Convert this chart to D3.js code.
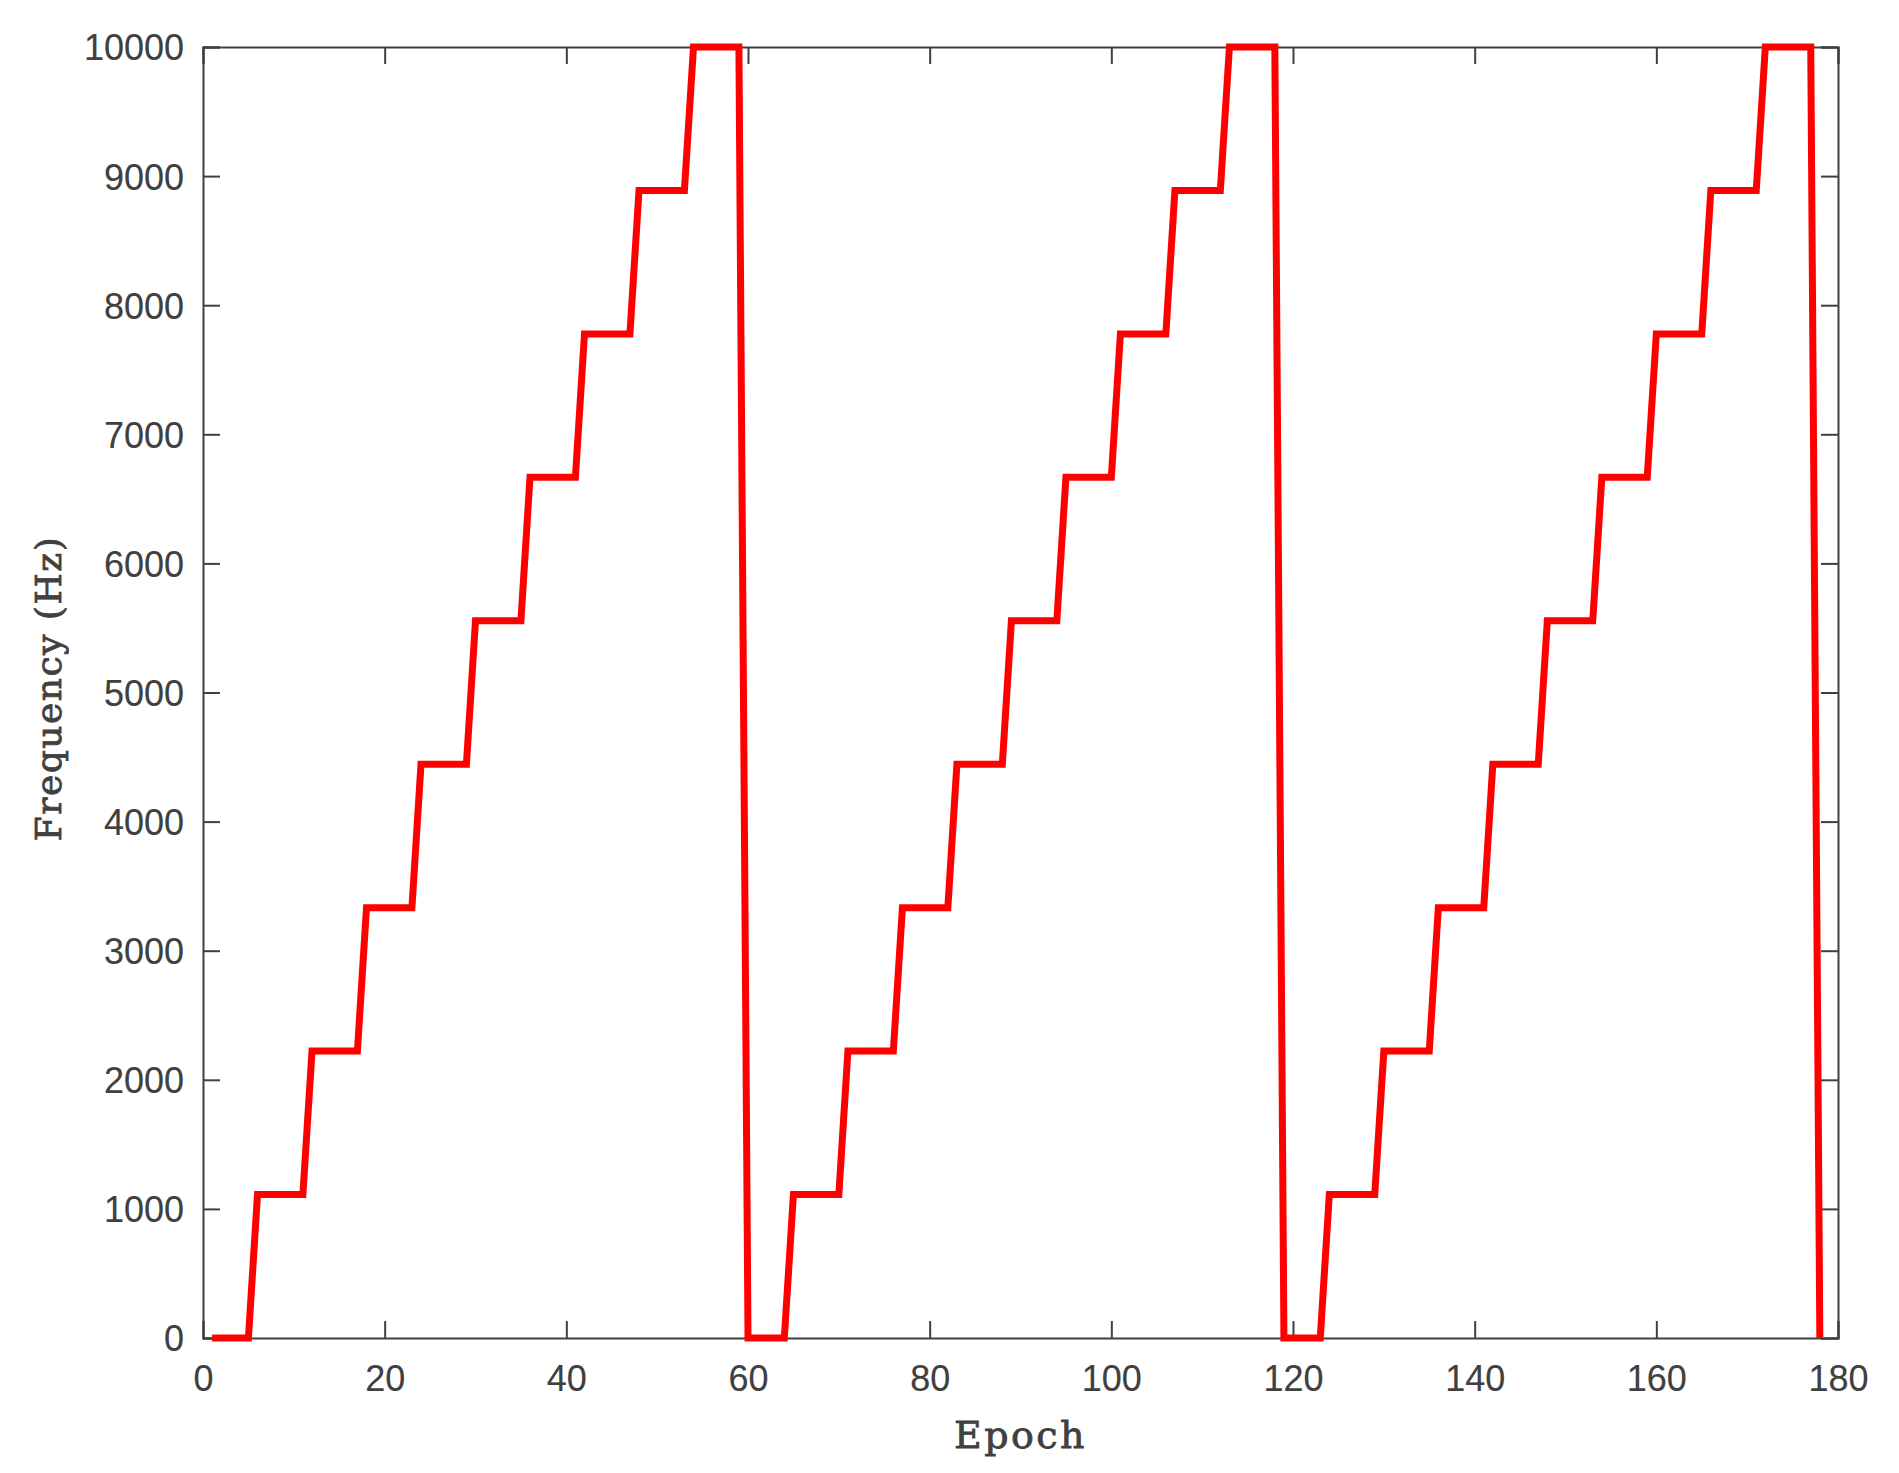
<!DOCTYPE html>
<html>
<head>
<meta charset="utf-8">
<script src="https://cdn.jsdelivr.net/npm/d3@7"></script>
<style>
  html, body { margin: 0; padding: 0; background: #ffffff; }
  svg { display: block; }
</style>
</head>
<body>
<svg id="chart" width="1899" height="1473"></svg>
<script>
// ---- data ----
const epochs = [
  1,2,3,4,5,6,7,8,9,10,11,12,13,14,15,16,17,18,19,20,
  21,22,23,24,25,26,27,28,29,30,31,32,33,34,35,36,37,38,39,40,
  41,42,43,44,45,46,47,48,49,50,51,52,53,54,55,56,57,58,59,60,
  61,62,63,64,65,66,67,68,69,70,71,72,73,74,75,76,77,78,79,80,
  81,82,83,84,85,86,87,88,89,90,91,92,93,94,95,96,97,98,99,100,
  101,102,103,104,105,106,107,108,109,110,111,112,113,114,115,116,117,118,119,120,
  121,122,123,124,125,126,127,128,129,130,131,132,133,134,135,136,137,138,139,140,
  141,142,143,144,145,146,147,148,149,150,151,152,153,154,155,156,157,158,159,160,
  161,162,163,164,165,166,167,168,169,170,171,172,173,174,175,176,177,178
];
const frequency = [
  // epochs 1-59
  0,0,0,0,0,
  1111.1,1111.1,1111.1,1111.1,1111.1,1111.1,
  2222.2,2222.2,2222.2,2222.2,2222.2,2222.2,
  3333.3,3333.3,3333.3,3333.3,3333.3,3333.3,
  4444.4,4444.4,4444.4,4444.4,4444.4,4444.4,
  5555.6,5555.6,5555.6,5555.6,5555.6,5555.6,
  6666.7,6666.7,6666.7,6666.7,6666.7,6666.7,
  7777.8,7777.8,7777.8,7777.8,7777.8,7777.8,
  8888.9,8888.9,8888.9,8888.9,8888.9,8888.9,
  10000,10000,10000,10000,10000,10000,
  // epochs 60-118
  0,0,0,0,0,
  1111.1,1111.1,1111.1,1111.1,1111.1,1111.1,
  2222.2,2222.2,2222.2,2222.2,2222.2,2222.2,
  3333.3,3333.3,3333.3,3333.3,3333.3,3333.3,
  4444.4,4444.4,4444.4,4444.4,4444.4,4444.4,
  5555.6,5555.6,5555.6,5555.6,5555.6,5555.6,
  6666.7,6666.7,6666.7,6666.7,6666.7,6666.7,
  7777.8,7777.8,7777.8,7777.8,7777.8,7777.8,
  8888.9,8888.9,8888.9,8888.9,8888.9,8888.9,
  10000,10000,10000,10000,10000,10000,
  // epochs 119-178
  0,0,0,0,0,
  1111.1,1111.1,1111.1,1111.1,1111.1,1111.1,
  2222.2,2222.2,2222.2,2222.2,2222.2,2222.2,
  3333.3,3333.3,3333.3,3333.3,3333.3,3333.3,
  4444.4,4444.4,4444.4,4444.4,4444.4,4444.4,
  5555.6,5555.6,5555.6,5555.6,5555.6,5555.6,
  6666.7,6666.7,6666.7,6666.7,6666.7,6666.7,
  7777.8,7777.8,7777.8,7777.8,7777.8,7777.8,
  8888.9,8888.9,8888.9,8888.9,8888.9,8888.9,
  10000,10000,10000,10000,10000,10000,
  0
];
const xTicks = [0, 20, 40, 60, 80, 100, 120, 140, 160, 180];
const yTicks = [0, 1000, 2000, 3000, 4000, 5000, 6000, 7000, 8000, 9000, 10000];
const xLabel = "Epoch";
const yLabel = "Frequency (Hz)";

// ---- layout ----
const W = 1899, H = 1473;
const plot = { left: 203, right: 1838, top: 47, bottom: 1338 };
const axisColor = "#404040";
const tickLen = 17;

const svg = d3.select("#chart");
svg.append("rect").attr("width", W).attr("height", H).attr("fill", "#ffffff");

const x = d3.scaleLinear().domain([0, 180]).range([plot.left, plot.right]);
const y = d3.scaleLinear().domain([0, 10000]).range([plot.bottom, plot.top]);

const fontTick = "'Liberation Sans', Arial, Helvetica, sans-serif";

// bottom axis
const gx = svg.append("g").attr("transform", `translate(0,${plot.bottom})`)
  .call(d3.axisBottom(x).tickValues(xTicks).tickFormat(d3.format("d")).tickSize(-tickLen).tickPadding(27));
// top axis (ticks only)
const gxt = svg.append("g").attr("transform", `translate(0,${plot.top})`)
  .call(d3.axisTop(x).tickValues(xTicks).tickFormat("").tickSize(-tickLen));
// left axis
const gy = svg.append("g").attr("transform", `translate(${plot.left},0)`)
  .call(d3.axisLeft(y).tickValues(yTicks).tickFormat(d3.format("d")).tickSize(-tickLen).tickPadding(19));
// right axis (ticks only)
const gyr = svg.append("g").attr("transform", `translate(${plot.right},0)`)
  .call(d3.axisRight(y).tickValues(yTicks).tickFormat("").tickSize(-tickLen));

[gx, gxt, gy, gyr].forEach(g => {
  g.select(".domain").attr("stroke", axisColor).attr("stroke-width", 2);
  g.selectAll(".tick line").attr("stroke", axisColor).attr("stroke-width", 2);
  g.selectAll(".tick text")
    .attr("fill", axisColor)
    .attr("stroke", axisColor)
    .attr("stroke-width", 0.15)
    .style("font-family", fontTick)
    .style("font-size", "36px");
});
gx.selectAll(".tick text").attr("dy", "0.71em");
gy.selectAll(".tick text").attr("dy", "0.36em");

// line
const line = d3.line()
  .x((d, i) => x(epochs[i]))
  .y(d => y(d));

svg.append("path")
  .datum(frequency)
  .attr("d", line)
  .attr("fill", "none")
  .attr("stroke", "#ff0000")
  .attr("stroke-width", 7)
  .attr("stroke-linejoin", "miter")
  .attr("stroke-miterlimit", 10)
  .attr("stroke-linecap", "butt");

// axis labels
const fontLabel = "'DejaVu Serif', 'Liberation Serif', serif";
svg.append("text")
  .attr("x", (plot.left + plot.right) / 2)
  .attr("y", 1448)
  .attr("text-anchor", "middle")
  .attr("fill", axisColor)
  .attr("stroke", axisColor)
  .attr("stroke-width", 0.8)
  .style("font-family", fontLabel)
  .style("font-size", "38px")
  .style("letter-spacing", "2.5px")
  .text(xLabel);

svg.append("text")
  .attr("transform", `translate(61,${(plot.top + plot.bottom) / 2 - 4}) rotate(-90)`)
  .attr("text-anchor", "middle")
  .attr("fill", axisColor)
  .attr("stroke", axisColor)
  .attr("stroke-width", 0.8)
  .style("font-family", fontLabel)
  .style("font-size", "36px")
  .style("letter-spacing", "1.5px")
  .text(yLabel);
</script>
</body>
</html>
